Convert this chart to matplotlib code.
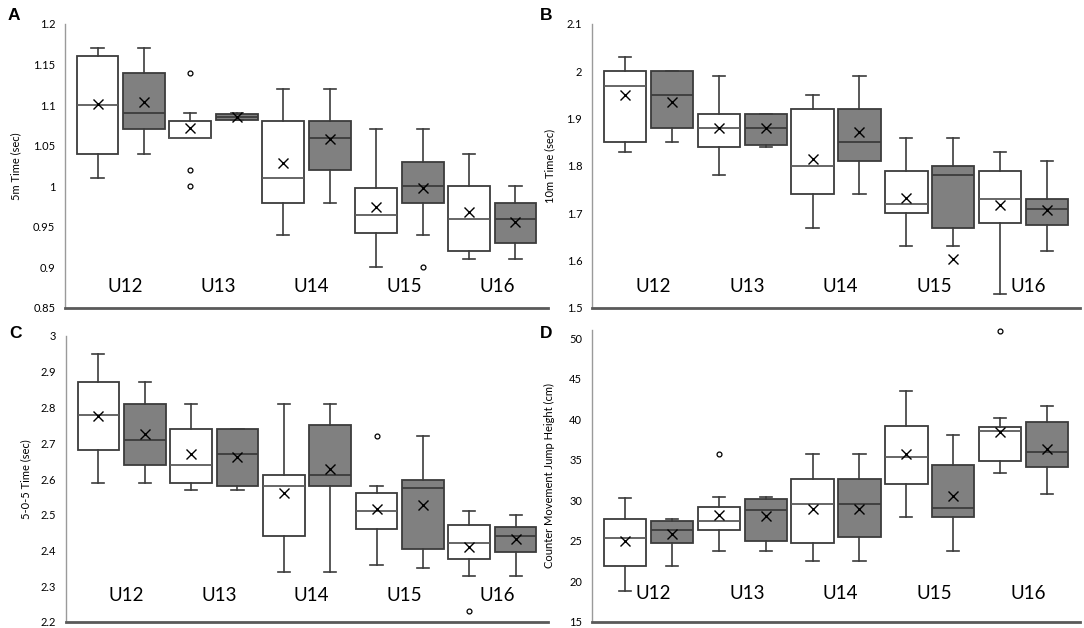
import matplotlib
matplotlib.use("Agg")
import matplotlib.pyplot as plt
import numpy as np

groups = ["U12", "U13", "U14", "U15", "U16"]

# Panel A: 5m time (sec)
a_whislo = [1.01, 1.04, 1.06, 1.082, 0.94, 0.98, 0.90, 0.94, 0.91, 0.91]
a_q1 = [1.04, 1.07, 1.06, 1.082, 0.98, 1.02, 0.943, 0.98, 0.92, 0.93]
a_med = [1.10, 1.09, 1.06, 1.086, 1.01, 1.06, 0.965, 1.00, 0.96, 0.96]
a_q3 = [1.16, 1.14, 1.08, 1.089, 1.08, 1.08, 0.998, 1.03, 1.00, 0.98]
a_whishi = [1.17, 1.17, 1.09, 1.09, 1.12, 1.12, 1.07, 1.07, 1.04, 1.00]
a_mean = [1.102, 1.104, 1.072, 1.085, 1.029, 1.058, 0.974, 0.998, 0.968, 0.956]
a_fliers = [[], [], [1.14, 1.02, 1.00], [], [], [], [], [0.90], [], []]

# Panel B: 10m time (sec)
b_whislo = [1.83, 1.85, 1.78, 1.84, 1.67, 1.74, 1.63, 1.63, 1.53, 1.62]
b_q1 = [1.85, 1.88, 1.84, 1.844, 1.74, 1.81, 1.70, 1.67, 1.68, 1.675]
b_med = [1.97, 1.95, 1.88, 1.88, 1.80, 1.85, 1.72, 1.78, 1.73, 1.71]
b_q3 = [2.00, 2.00, 1.91, 1.91, 1.92, 1.92, 1.79, 1.80, 1.79, 1.73]
b_whishi = [2.03, 2.00, 1.99, 1.91, 1.95, 1.99, 1.86, 1.86, 1.83, 1.81]
b_mean = [1.95, 1.936, 1.881, 1.88, 1.814, 1.871, 1.733, 1.604, 1.718, 1.708]
b_fliers = [[], [], [], [], [], [], [], [], [], []]

# Panel C: 5-0-5 time (sec)
c_whislo = [2.59, 2.59, 2.57, 2.57, 2.34, 2.34, 2.36, 2.35, 2.33, 2.33]
c_q1 = [2.68, 2.64, 2.59, 2.58, 2.44, 2.58, 2.46, 2.405, 2.375, 2.395]
c_med = [2.78, 2.71, 2.64, 2.67, 2.58, 2.61, 2.51, 2.575, 2.42, 2.44]
c_q3 = [2.87, 2.81, 2.74, 2.74, 2.61, 2.75, 2.56, 2.596, 2.47, 2.465]
c_whishi = [2.95, 2.87, 2.81, 2.74, 2.81, 2.81, 2.58, 2.72, 2.51, 2.50]
c_mean = [2.777, 2.726, 2.671, 2.662, 2.56, 2.629, 2.515, 2.527, 2.41, 2.431]
c_fliers = [[], [], [], [], [], [], [2.72], [], [2.23], []]

# Panel D: counter movement jump height (cm)
d_whislo = [18.8, 21.9, 23.8, 23.8, 22.5, 22.5, 28.0, 23.8, 33.4, 30.8]
d_q1 = [21.9, 24.8, 26.4, 25.0, 24.8, 25.5, 32.0, 28.0, 34.8, 34.1]
d_med = [25.4, 26.4, 27.5, 28.8, 29.5, 29.5, 35.4, 29.1, 38.5, 36.0]
d_q3 = [27.7, 27.5, 29.2, 30.2, 32.6, 32.6, 39.2, 34.4, 39.1, 39.6]
d_whishi = [30.3, 27.7, 30.4, 30.4, 35.7, 35.7, 43.5, 38.1, 40.1, 41.6]
d_mean = [24.94, 25.88, 28.22, 28.02, 28.92, 28.90, 35.66, 30.57, 38.37, 36.36]
d_fliers = [[], [], [35.7], [], [], [], [], [], [50.9], []]

a_ticks = [0.85, 0.9, 0.95, 1.0, 1.05, 1.1, 1.15, 1.2]
b_ticks = [1.5, 1.6, 1.7, 1.8, 1.9, 2.0, 2.1]
c_ticks = [2.2, 2.3, 2.4, 2.5, 2.6, 2.7, 2.8, 2.9, 3.0]
d_ticks = [15, 20, 25, 30, 35, 40, 45, 50]

W, H = 1084, 628
fig = plt.figure(figsize=(W / 100, H / 100), dpi=100)

TXT = ["Lato", "DejaVu Sans"]
EDGE = "#3c3c3c"


def ax_rect(l, t, r, b):
    return [l / W, 1 - b / H, (r - l) / W, (b - t) / H]


def panel(rect, whislo, q1, med, q3, whishi, mean, fliers, ticks, ylim,
          ylabel, letter, letter_xy, label_x, group_y):
    ax = fig.add_axes(rect)
    pos = np.arange(1, len(med) + 1)
    stats = []
    for i in range(len(med)):
        stats.append(dict(med=med[i], q1=q1[i], q3=q3[i], whislo=whislo[i],
                          whishi=whishi[i], mean=mean[i], fliers=fliers[i]))
    bp = ax.bxp(stats, positions=pos, widths=0.9, showmeans=True,
                patch_artist=True, capwidths=0.26,
                boxprops=dict(edgecolor=EDGE, linewidth=1.3),
                whiskerprops=dict(color=EDGE, linewidth=1.2),
                capprops=dict(color=EDGE, linewidth=1.2),
                medianprops=dict(color=EDGE, linewidth=1.3),
                meanprops=dict(marker="x", markeredgecolor="black",
                               markersize=7, markeredgewidth=1.0),
                flierprops=dict(marker="o", markerfacecolor="white",
                                markeredgecolor="black", markersize=3.5,
                                markeredgewidth=0.9))
    for i, patch in enumerate(bp["boxes"]):
        patch.set_facecolor("white" if i % 2 == 0 else "#808080")
    for i, m in enumerate(bp["medians"]):
        if i % 2 == 0:
            m.set_color("#5a5a5a")
    for f in bp["fliers"]:
        f.set_clip_on(False)
    ax.set_xlim(0.3, 10.7)
    ax.set_ylim(*ylim)
    ax.set_yticks(ticks)
    ax.set_yticklabels([f"{t:g}" for t in ticks], family=TXT, fontsize=8)
    ax.tick_params(axis="y", length=0, pad=7)
    ax.set_xticks([])
    for s in ("top", "right"):
        ax.spines[s].set_visible(False)
    ax.spines["left"].set_color("#9a9a9a")
    ax.spines["left"].set_linewidth(1.0)
    ax.spines["bottom"].set_color("#5a5a5a")
    ax.spines["bottom"].set_linewidth(2.0)
    ax.set_ylabel(ylabel, family=TXT, fontsize=8)
    ax.yaxis.set_label_coords(label_x, 0.5)
    for k, g in enumerate(groups):
        ax.text(2 * k + 1.5 + 0.1, group_y, g, transform=ax.get_xaxis_transform(),
                ha="center", va="center", family=TXT, fontsize=13.5)
    fig.text(letter_xy[0] / W, 1 - letter_xy[1] / H, letter, ha="center",
             va="center", fontsize=12.5, fontweight="bold",
             family=["Liberation Sans", "DejaVu Sans"])
    return ax


panel(ax_rect(65, 24, 548, 308), a_whislo, a_q1, a_med, a_q3, a_whishi,
      a_mean, a_fliers, a_ticks, (0.85, 1.2), "5m Time (sec)", "A",
      (14, 15), -0.091, 0.075)
panel(ax_rect(592, 24, 1080, 308), b_whislo, b_q1, b_med, b_q3, b_whishi,
      b_mean, b_fliers, b_ticks, (1.5, 2.1), "10m Time (sec)", "B",
      (546, 15), -0.076, 0.075)
panel(ax_rect(66, 336, 548, 622), c_whislo, c_q1, c_med, c_q3, c_whishi,
      c_mean, c_fliers, c_ticks, (2.2, 3.0), "5-0-5 Time (sec)", "C",
      (16, 333), -0.073, 0.094)
panel(ax_rect(592, 330, 1080, 622), d_whislo, d_q1, d_med, d_q3, d_whishi,
      d_mean, d_fliers, d_ticks, (15, 51), "Counter Movement Jump Height (cm)", "D",
      (546, 333), -0.076, 0.098)

fig.savefig("out.png", dpi=100, facecolor="white")
